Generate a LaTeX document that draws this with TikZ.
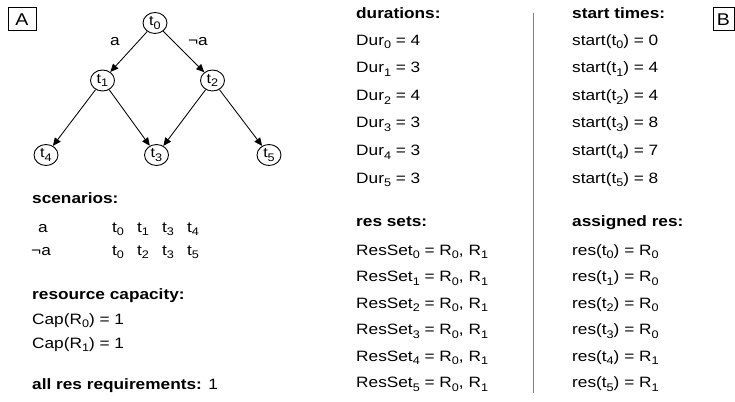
\documentclass[tikz,border=0pt]{standalone}
\usepackage{fontspec}
\setmainfont{Liberation Sans}[FakeStretch=1.15]
\usetikzlibrary{arrows.meta,shapes.geometric}

\newcommand{\tsub}[1]{\raisebox{-3.5pt}{\fontsize{11}{11}\selectfont #1}}
\newcommand{\tcol}[1]{\makebox[25pt][l]{t\tsub{#1}}}

\tikzset{
  task/.style={ellipse, draw, line width=0.9pt, minimum width=24pt, minimum height=21pt, inner sep=0pt, font=\fontsize{14}{14}\selectfont},
  dep/.style={line width=0.85pt, -{Triangle[length=8pt,width=7pt]}},
  txt/.style={anchor=base west, inner sep=0pt, font=\fontsize{15}{18}\selectfont},
  hdr/.style={txt, font=\fontsize{15}{18}\selectfont\bfseries},
  panel/.style={draw, line width=1pt, inner sep=0pt, minimum width=28pt, minimum height=23pt, font=\fontsize{17}{17}\selectfont},
}

\begin{document}
\begin{tikzpicture}[x=1pt,y=-1pt]
\useasboundingbox (0,0) rectangle (735,401);
\node[panel] (lblA) at (22,19.5) {A}; % panel A
\node[panel, minimum width=21pt] (lblB) at (723.5,19.5) {B}; % panel B

% task tree
\node[task] (t0) at (155,23) {t\tsub{0}};
\node[task] (t1) at (102.5,80.5) {t\tsub{1}};
\node[task] (t2) at (212.5,80.5) {t\tsub{2}};
\node[task] (t4) at (46,155) {t\tsub{4}};
\node[task] (t3) at (156.5,155) {t\tsub{3}};
\node[task] (t5) at (269,155) {t\tsub{5}};
\draw[dep] (t0) -- (t1);
\draw[dep] (t0) -- (t2);
\draw[dep] (t1) -- (t4);
\draw[dep] (t1) -- (t3);
\draw[dep] (t2) -- (t3);
\draw[dep] (t2) -- (t5);
\node[txt, anchor=center] (cond) at (115,42) {a}; % branch labels
\node[txt, anchor=center] (ncond) at (198,42) {¬a};

% scenarios and capacities
\node[hdr] (scen) at (32,203) {scenarios:};
\node[txt] (scA) at (38,232) {a};
\node[txt] (scAt) at (112,232) {\tcol{0}\tcol{1}\tcol{3}t\tsub{4}};
\node[txt] (scN) at (31,255) {¬a};
\node[txt] (scNt) at (112,255) {\tcol{0}\tcol{2}\tcol{3}t\tsub{5}};
\node[hdr] (capH) at (32,299) {resource capacity:};
\node[txt] (cap0) at (32,324) {Cap(R\tsub{0}) = 1};
\node[txt] (cap1) at (32,348) {Cap(R\tsub{1}) = 1};
\node[txt] (req) at (32,389) {\textbf{all res requirements:} 1};

% durations and res sets
\node[hdr] (durH) at (356,18.5) {durations:};
\foreach \i/\d in {0/4,1/3,2/4,3/3,4/3,5/3}
  \node[txt] (dur\i) at (356,45.5+27.5*\i) {Dur\tsub{\i} = \d};
\node[hdr] (setH) at (356,226.5) {res sets:};
\foreach \i in {0,...,5}
  \node[txt] (set\i) at (356,255+26.5*\i) {ResSet\tsub{\i} = R\tsub{0}, R\tsub{1}};

\draw[gray, line width=0.9pt] (533,13) -- (533,393); % separator

% start times and assigned res
\node[hdr] (startH) at (572,18.5) {start times:};
\foreach \i/\s in {0/0,1/4,2/4,3/8,4/7,5/8}
  \node[txt] (start\i) at (572,45.5+27.5*\i) {start(t\tsub{\i}) = \s};
\node[hdr] (resH) at (572,226.5) {assigned res:};
\foreach \i/\r in {0/0,1/0,2/0,3/0,4/1,5/1}
  \node[txt] (res\i) at (572,255+26.5*\i) {res(t\tsub{\i}) = R\tsub{\r}};
\end{tikzpicture}
\end{document}
